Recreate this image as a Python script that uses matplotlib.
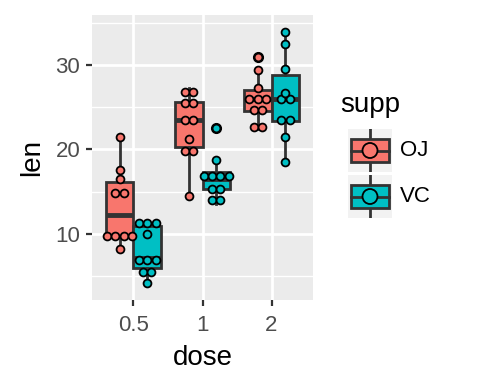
import numpy as np
import matplotlib
matplotlib.use("Agg")
import matplotlib.pyplot as plt
from matplotlib.patches import Rectangle, Circle

plt.rcParams['font.family'] = ['Liberation Sans', 'DejaVu Sans']

# ToothGrowth: len by supp and dose
doses = ["0.5", "1", "2"]
supps = ["OJ", "VC"]
oj_05 = [15.2, 21.5, 17.6, 9.7, 14.5, 10.0, 8.2, 9.4, 16.5, 9.7]
oj_1 = [19.7, 23.3, 23.6, 26.4, 20.0, 25.2, 25.8, 21.2, 14.5, 27.3]
oj_2 = [25.5, 26.4, 22.4, 24.5, 24.8, 30.9, 26.4, 27.3, 29.4, 23.0]
vc_05 = [4.2, 11.5, 7.3, 5.8, 6.4, 10.0, 11.2, 11.2, 5.2, 7.0]
vc_1 = [16.5, 16.5, 15.2, 17.3, 22.5, 17.3, 13.6, 14.5, 18.8, 15.5]
vc_2 = [23.6, 18.5, 33.9, 25.5, 26.4, 32.5, 26.7, 21.5, 23.3, 29.5]
groups = {"OJ": [oj_05, oj_1, oj_2], "VC": [vc_05, vc_1, vc_2]}
colors = {"OJ": "#F8766D", "VC": "#00BFC4"}

W, H = 480, 384
fig = plt.figure(figsize=(W / 100, H / 100), dpi=100)
px_l, px_r, px_t, px_b = 92, 313, 15, 300
ax = fig.add_axes([px_l / W, (H - px_b) / H, (px_r - px_l) / W, (px_b - px_t) / H])
ax.set_facecolor("#EBEBEB")

allv = np.concatenate([np.concatenate(v) for v in groups.values()])
binwidth = (allv.max() - allv.min()) / 30
lo, hi = allv.min() - binwidth / 2, allv.max() + binwidth / 2
pad = (hi - lo) * 0.05
ax.set_ylim(lo - pad, hi + pad)
ax.set_xlim(-0.6, 2.6)
ppx = (px_r - px_l) / 3.2
ppy = (px_b - px_t) / (hi - lo + 2 * pad)


def dotdensity(vals, bw):
    vals = sorted(vals)
    bins = []
    end = -np.inf
    for v in vals:
        if v >= end:
            end = v + bw
            bins.append([])
        bins[-1].append(v)
    return [((min(b) + max(b)) / 2, len(b)) for b in bins]


dodge = 0.2
box_w = 0.4
dot_px = binwidth * ppy
edge = "#333333"
for si, s in enumerate(supps):
    off = -dodge if si == 0 else dodge
    pos = [i + off for i in range(3)]
    ax.boxplot(groups[s], positions=pos, widths=box_w, patch_artist=True,
               whis=1.5, manage_ticks=False, zorder=2,
               boxprops=dict(facecolor=colors[s], edgecolor=edge, linewidth=2.0),
               whiskerprops=dict(color=edge, linewidth=2.0),
               capprops=dict(linewidth=0),
               medianprops=dict(color=edge, linewidth=3.5),
               flierprops=dict(marker="o", markerfacecolor="black",
                               markeredgecolor="black", markersize=7))
    for i, vals in enumerate(groups[s]):
        xs, ys = [], []
        for c, n in dotdensity(vals, binwidth):
            for k in range(n):
                xs.append(pos[i] + (k - (n - 1) / 2) * dot_px / ppx)
                ys.append(c)
        ax.scatter(xs, ys, s=((dot_px - 0.5) * 0.72) ** 2, facecolor=colors[s],
                   edgecolor="black", linewidth=1.3, zorder=4)

ax.set_yticks([10, 20, 30])
ax.set_yticks([5, 15, 25, 35], minor=True)
ax.set_xticks(range(3))
ax.set_xticklabels(doses)
ax.grid(which="major", color="white", linewidth=2.0, zorder=0)
ax.grid(which="minor", axis="y", color="white", linewidth=1.0, zorder=0)
ax.set_axisbelow(True)
for sp in ax.spines.values():
    sp.set_visible(False)
ax.tick_params(which="major", length=4.5, width=1.6, color=edge,
               labelsize=16, labelcolor="#4D4D4D", pad=4)
ax.tick_params(axis="x", pad=6)
ax.tick_params(which="minor", length=0)
ax.set_xlabel("dose", fontsize=20, labelpad=7)
ax.set_ylabel("len", fontsize=20, labelpad=7)

# legend
fig.text(340 / W, 1 - 105 / H, "supp", fontsize=20, va="center", ha="left")
for j, s in enumerate(supps):
    ky = 129 + j * 46
    kax = fig.add_axes([348 / W, 1 - (ky + 43) / H, 44 / W, 43 / H])
    kax.set_xlim(0, 44)
    kax.set_ylim(43, 0)
    kax.set_facecolor("#F2F2F2")
    kax.set_xticks([])
    kax.set_yticks([])
    for sp in kax.spines.values():
        sp.set_visible(False)
    kax.plot([22, 22], [0, 43], color=edge, linewidth=2.0, zorder=1)
    kax.add_patch(Rectangle((3, 10), 38, 23, facecolor=colors[s],
                            edgecolor=edge, linewidth=2.0, zorder=2))
    kax.plot([3, 41], [21.5, 21.5], color=edge, linewidth=2.0, zorder=3)
    kax.add_patch(Circle((22, 21.5), 7.5, facecolor=colors[s],
                         edgecolor="black", linewidth=1.3, zorder=4))
    fig.text(400 / W, 1 - (ky + 21.5) / H, s, fontsize=16, va="center", ha="left")

fig.savefig("out.png", dpi=100)
